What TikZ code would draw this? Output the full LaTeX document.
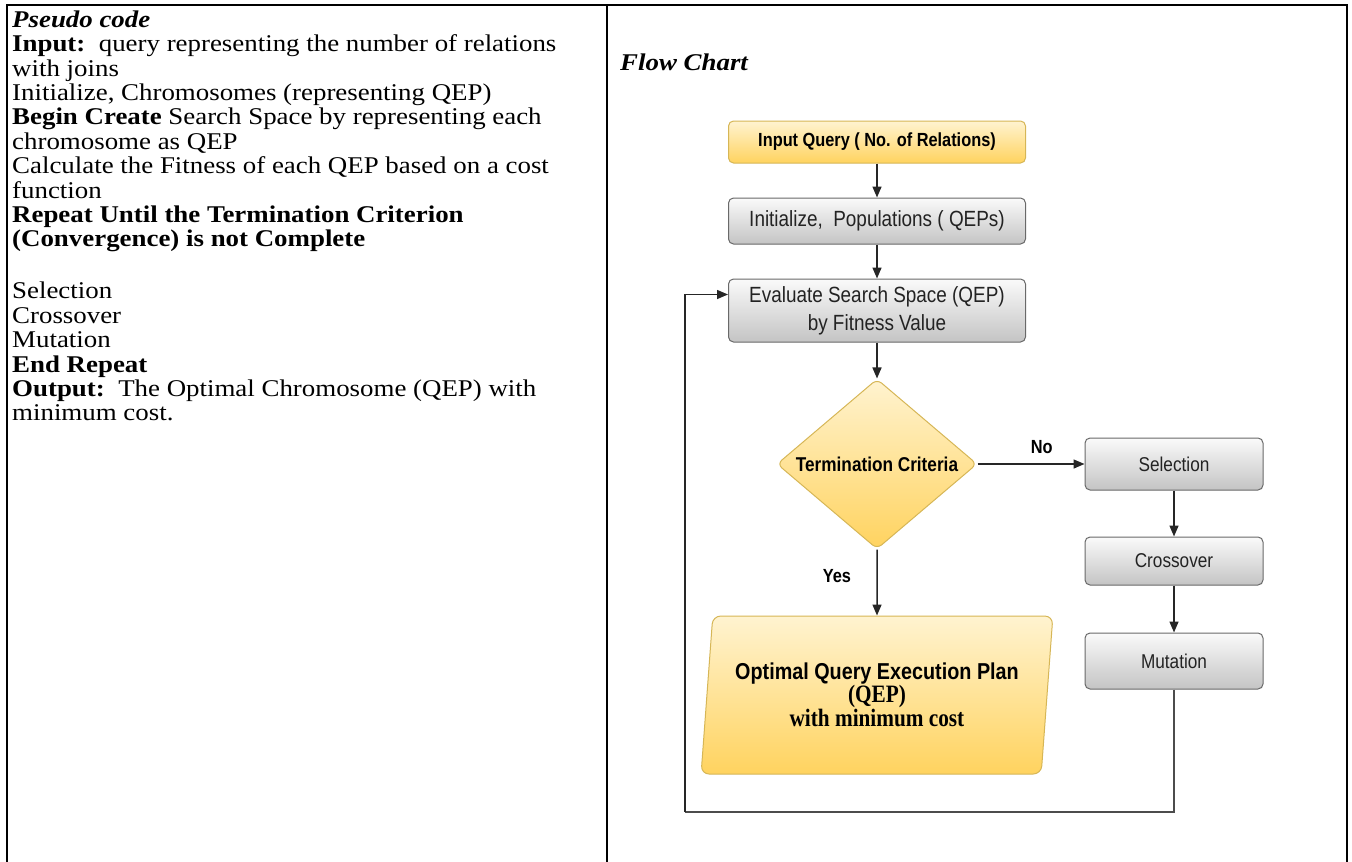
\documentclass[tikz,border=0pt]{standalone}
\usepackage{fontspec}
\setmainfont{Liberation Serif}
\newfontfamily\pseudofont[FakeStretch=1.12]{Liberation Serif}
\newfontfamily\chartfont[FakeStretch=0.86]{Liberation Sans}
\newfontfamily\chartserif[FakeStretch=0.85]{Liberation Serif}
\usepackage{xcolor}
\definecolor{GrayTop}{RGB}{250,250,250}
\definecolor{GrayBot}{RGB}{196,196,196}
\definecolor{BorderGray}{RGB}{105,105,105}
\definecolor{YellowTop}{RGB}{255,243,208}
\definecolor{YellowBot}{RGB}{255,211,95}
\definecolor{BorderYellow}{RGB}{214,182,86}
\definecolor{TextDark}{RGB}{35,35,35}
\usetikzlibrary{shapes.geometric, arrows.meta, positioning}
\tikzset{
  % gray process box
  gbox/.style={
    rectangle, rounded corners=5pt,
    draw=BorderGray, line width=1pt,
    top color=GrayTop, bottom color=GrayBot,
    align=center, text=TextDark,
    font=\chartfont\fontsize{20}{27}\selectfont,
    minimum width=178pt, minimum height=52pt,
    inner sep=2pt
  },
  gbox wide/.style={gbox, minimum width=297pt, font=\chartfont\fontsize{22}{28}\selectfont},
  % yellow variants
  ybox/.style={gbox wide, draw=BorderYellow, top color=YellowTop, bottom color=YellowBot},
  decision/.style={
    diamond, rounded corners=6pt, aspect=1.18,
    draw=BorderYellow, line width=1pt,
    top color=YellowTop, bottom color=YellowBot,
    minimum width=200pt, minimum height=170pt, inner sep=0pt,
    align=center, text=black,
    font=\chartfont\bfseries\fontsize{20}{24}\selectfont
  },
  outbox/.style={
    trapezium, trapezium left angle=81, trapezium right angle=99,
    trapezium stretches=true, rounded corners=8pt,
    draw=BorderYellow, line width=1pt,
    top color=YellowTop, bottom color=YellowBot,
    minimum width=353pt, minimum height=158pt, inner sep=0pt,
    align=center, text=black
  },
  % arrows
  arr/.style={-{Triangle[length=11pt,width=9pt]}, line width=1.5pt, black!85},
  line/.style={line width=1.5pt, black!70},
  elabel/.style={font=\chartfont\bfseries\fontsize{19}{22}\selectfont, text=black},
  frame/.style={line width=2.4pt, black}
}

\begin{document}
\begin{tikzpicture}[x=1pt, y=-1pt]
  \useasboundingbox (0,0) rectangle (1352,862);

  %% Table frame
  \draw[frame] (7,862) -- (7,5) -- (1347,5) -- (1347,862);
  \draw[frame] (607,5) -- (607,862);

  %% Pseudo code column
  \node[anchor=north west, inner sep=0pt, align=left,
        font=\pseudofont\fontsize{24}{24.4}\selectfont] (pseudo) at (12,10.5)
  {\textbf{\textit{Pseudo code}}\\
   \textbf{Input:}\ \ query representing the number of relations\\
   with joins\\
   Initialize, Chromosomes (representing QEP)\\
   \textbf{Begin Create} Search Space by representing each\\
   chromosome as QEP\\
   Calculate the Fitness of each QEP based on a cost\\
   function\\
   \textbf{Repeat Until the Termination Criterion}\\
   \textbf{(Convergence) is not Complete}\\[27.6pt]
   Selection\\
   Crossover\\
   Mutation\\
   \textbf{End Repeat}\\
   \textbf{Output:}\ \ The Optimal Chromosome (QEP) with\\
   minimum cost.};

  \node[anchor=base west, inner sep=0pt,
        font=\pseudofont\bfseries\itshape\fontsize{24}{24.4}\selectfont]
    (title) at (620,70) {Flow Chart};

  %% Flow chart
  \node[ybox, minimum height=42pt, text=black,
        font=\chartfont\bfseries\fontsize{19}{22}\selectfont]
    (inq) at (877,142) {Input Query ( No. of Relations)};
  \node[gbox wide, minimum height=46pt, below=34pt of inq]
    (init) {Initialize,\ \ Populations ( QEPs)};
  \node[gbox wide, minimum height=63pt, below=34pt of init]
    (eval) {Evaluate Search Space (QEP)\\by Fitness Value};
  \node[decision, below=36pt of eval] (term) {Termination Criteria};

  \node[gbox, right=107pt of term] (sel) {Selection};
  \node[gbox, minimum height=48pt, below=46pt of sel] (cross) {Crossover};
  \node[gbox, minimum height=56pt, below=47pt of cross] (mut) {Mutation};

  \node[outbox, below=66pt of term] (opt)
    {{\chartfont\bfseries\fontsize{23}{30}\selectfont Optimal Query Execution Plan}\\
     {\chartserif\bfseries\fontsize{25}{30}\selectfont (QEP)}\\
     {\chartserif\bfseries\fontsize{25}{30}\selectfont with minimum cost}};

  %% Connectors
  \draw[arr] (inq) -- (init);
  \draw[arr] (init) -- (eval);
  \draw[arr] (eval) -- (term);
  \draw[arr] (term) -- node[elabel, pos=0.6, above=6pt] {No} (sel);
  \draw[arr] (term) -- node[elabel, pos=0.4, left=22pt] {Yes} (opt);
  \draw[arr] (sel) -- (cross);
  \draw[arr] (cross) -- (mut);

  %% Loop back
  \coordinate (loopR) at (mut.south |- 0,812);
  \coordinate (loopL) at (685,812);
  \draw[line] (mut.south) -- (loopR) -- (loopL);
  \draw[arr] (loopL) |- ([yshift=16pt]eval.west);

\end{tikzpicture}
\end{document}
